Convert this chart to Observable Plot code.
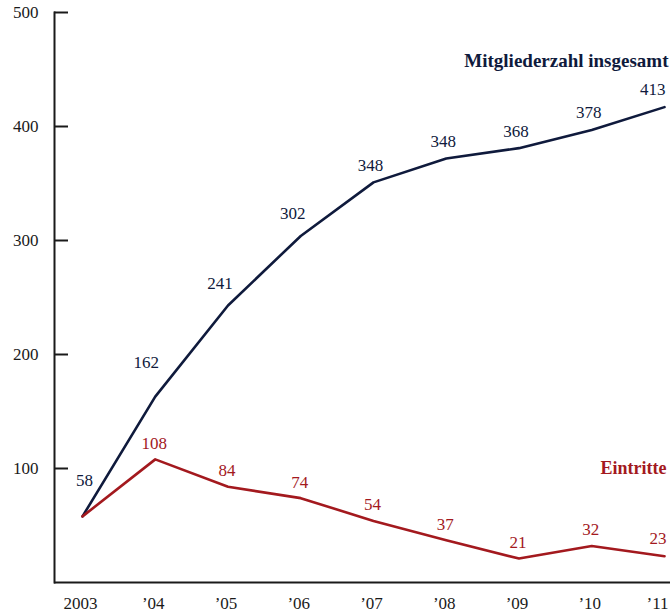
<!DOCTYPE html>
<html><head><meta charset="utf-8">
<script src="https://cdn.jsdelivr.net/npm/d3@7"></script>
<script src="https://cdn.jsdelivr.net/npm/@observablehq/plot@0.6"></script>
<style>body{margin:0;background:#fff}</style>
</head><body><div id="chart"></div>
<script>
const years = [2003, 2004, 2005, 2006, 2007, 2008, 2009, 2010, 2011];
const xTickLabels = ["2003", "’04", "’05", "’06", "’07", "’08", "’09", "’10", "’11"];
const memberTotal = [58, 163, 243, 304, 351, 372, 381, 397, 417];
const memberLabels = [58, 162, 241, 302, 348, 348, 368, 378, 413];
const entries = [58, 108, 84, 74, 54, 37, 21, 32, 23];
const entryLabels = [null, 108, 84, 74, 54, 37, 21, 32, 23];
const yTicks = [100, 200, 300, 400, 500];
const seriesNames = ["Mitgliederzahl insgesamt", "Eintritte"];

const navy = "#0f1a3c";
const red = "#a3191e";
const ink = "#1a1a1a";

const n = years.length;
const members = years.map((year, i) => ({
  year, value: memberTotal[i], label: memberLabels[i], i,
  slopeIn: i > 0 ? memberTotal[i] - memberTotal[i - 1] : null
}));
const joins = years.map((year, i) => ({year, value: entries[i], label: entryLabels[i], i}));

// label groups for the member series, chosen from the local steepness of the line
const mFirst = members.filter(d => d.i === 0);
const mLast = members.filter(d => d.i === n - 1);
const mMid = members.filter(d => d.i > 0 && d.i < n - 1);
const mSteep = mMid.filter(d => d.slopeIn > 90);
const mRising = mMid.filter(d => d.slopeIn > 55 && d.slopeIn <= 90);
const mFlat = mMid.filter(d => d.slopeIn <= 55);

const jLabeled = joins.filter(d => d.label != null);
const jMid = jLabeled.filter(d => d.i < n - 1);
const jLast = jLabeled.filter(d => d.i === n - 1);

const lab = d => String(d.label);
const mText = (data, o) => Plot.text(data, {x: "year", y: "value", text: lab, fill: navy, fontSize: 17, ...o});
const jText = (data, o) => Plot.text(data, {x: "year", y: "value", text: lab, fill: red, fontSize: 17, ...o});

const chart = Plot.plot({
  width: 670,
  height: 612,
  marginLeft: 54,
  marginRight: 0,
  marginTop: 12,
  marginBottom: 30,
  x: {domain: [2003, 2011], insetLeft: 28, insetRight: 6},
  y: {domain: [0, 500]},
  style: {fontFamily: "'Liberation Serif', serif", fontSize: "17px", color: ink, background: "white"},
  marks: [
    Plot.axisY(yTicks, {tickSize: -14, tickPadding: 30, strokeWidth: 2, stroke: ink, fill: ink, fontSize: 17, label: null}),
    Plot.axisX(years.slice(0, -1), {tickSize: 0, tickPadding: 14, dx: -2, fill: ink, fontSize: 17, label: null,
      tickFormat: d => xTickLabels[years.indexOf(d)]}),
    Plot.axisX(years.slice(-1), {tickSize: 0, tickPadding: 14, dx: 4, textAnchor: "end", fill: ink, fontSize: 17, label: null,
      tickFormat: d => xTickLabels[years.indexOf(d)]}),
    Plot.ruleY([0], {stroke: ink, strokeWidth: 2}),
    Plot.frame({anchor: "left", stroke: ink, strokeWidth: 2}),
    Plot.line(members, {x: "year", y: "value", stroke: navy, strokeWidth: 2.6}),
    Plot.line(joins, {x: "year", y: "value", stroke: red, strokeWidth: 2.6}),
    mText(mFirst, {dx: 2, dy: -36}),
    mText(mSteep, {dx: -9, dy: -34}),
    mText(mRising, {dx: -8, dy: -22}),
    mText(mFlat, {dx: -3, dy: -17}),
    mText(mLast, {dx: 1, dy: -18, textAnchor: "end"}),
    jText(jMid, {dx: -1, dy: -16}),
    jText(jLast, {dx: 2, dy: -18, textAnchor: "end"}),
    Plot.text([seriesNames[0]], {frameAnchor: "top-right", textAnchor: "end", dx: -2, dy: 41, fill: navy, fontWeight: "bold", fontSize: 19}),
    Plot.text([seriesNames[1]], {frameAnchor: "bottom-right", textAnchor: "end", dx: -4, dy: -109, fill: red, fontWeight: "bold", fontSize: 18})
  ]
});
document.getElementById("chart").appendChild(chart);
</script>
</body></html>
